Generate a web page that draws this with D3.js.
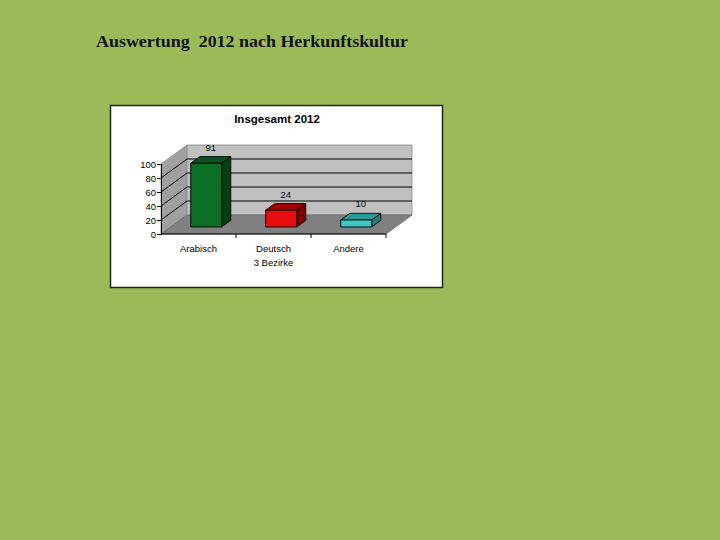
<!DOCTYPE html>
<html><head><meta charset="utf-8">
<script src="https://cdn.jsdelivr.net/npm/d3@7"></script>
<style>html,body{margin:0;padding:0;background:#9bbb59;}svg{display:block;}</style>
</head><body>
<script>
const pageTitle = "Auswertung  2012 nach Herkunftskultur";
const chartTitle = "Insgesamt 2012";
const categories = ["Arabisch", "Deutsch", "Andere"];
const categoryLines = [["Arabisch"], ["Deutsch", "3 Bezirke"], ["Andere"]];
const values = [91, 24, 10];
const yTicks = [0, 20, 40, 60, 80, 100];
const frontColors = ["#0b6e24", "#e80c0c", "#3cc8c8"];
const topColors = ["#0a5220", "#a30000", "#2a9a9a"];
const sideColors = ["#063f16", "#7a0000", "#1f7d7d"];

const W = 720, H = 540;
const svg = d3.select("body").append("svg").attr("width", W).attr("height", H);
svg.append("rect").attr("width", W).attr("height", H).attr("fill", "#9bbb59");

svg.append("text").attr("x", 96).attr("y", 47)
  .attr("font-family", "Liberation Serif, Times New Roman, serif")
  .attr("font-weight", "bold").attr("font-size", 17).attr("fill", "#111")
  .style("white-space", "pre")
  .attr("textLength", 312).attr("lengthAdjust", "spacingAndGlyphs")
  .text(pageTitle);

// chart frame
svg.append("rect").attr("x", 110.5).attr("y", 105.5).attr("width", 332).attr("height", 182)
  .attr("fill", "#fff").attr("stroke", "#1c2a12").attr("stroke-width", 1.5);

svg.append("text").attr("x", 277).attr("y", 123).attr("text-anchor", "middle")
  .attr("font-family", "Liberation Sans, Arial, sans-serif").attr("font-weight", "bold")
  .attr("font-size", 11.5).attr("fill", "#000").text(chartTitle);

const x0 = 161, x1 = 386;
const dX = 26, dY = -19;
const x = d3.scaleBand().domain(categories).range([x0, x1]);
const y = d3.scaleLinear().domain([0, 100]).range([234, 164]);
const bw = x.bandwidth();

const g = svg.append("g");
const pts = a => a.map(p => p.join(",")).join(" ");

// side wall
g.append("polygon").attr("points", pts([[x0, y(0)], [x0, y(100)], [x0 + dX, y(100) + dY], [x0 + dX, y(0) + dY]]))
  .attr("fill", "#a0a0a0").attr("stroke", "#8a8a8a").attr("stroke-width", 0.8);
// back wall
g.append("rect").attr("x", x0 + dX).attr("y", y(100) + dY).attr("width", x1 - x0).attr("height", y(0) - y(100))
  .attr("fill", "#c0c0c0").attr("stroke", "#8a8a8a").attr("stroke-width", 0.8);
// floor
g.append("polygon").attr("points", pts([[x0, y(0)], [x1, y(0)], [x1 + dX, y(0) + dY], [x0 + dX, y(0) + dY]]))
  .attr("fill", "#808080").attr("stroke", "#6a6a6a").attr("stroke-width", 0.8);

// grid lines
yTicks.filter(v => v > 0 && v < 100).forEach(v => {
  g.append("line").attr("x1", x0).attr("y1", y(v)).attr("x2", x0 + dX).attr("y2", y(v) + dY)
    .attr("stroke", "#000").attr("stroke-width", 1);
  g.append("line").attr("x1", x0 + dX).attr("y1", y(v) + dY).attr("x2", x1 + dX).attr("y2", y(v) + dY)
    .attr("stroke", "#000").attr("stroke-width", 1);
});

// axes
const yAxis = d3.axisLeft(y).tickValues(yTicks).tickSize(4).tickPadding(1);
const ya = svg.append("g").attr("transform", `translate(${x0},0)`).call(yAxis);
ya.selectAll("text").attr("font-family", "Liberation Sans, Arial, sans-serif").attr("font-size", 9.5).attr("fill", "#000");
ya.selectAll("line,path").attr("stroke", "#000");

const xa = svg.append("g");
xa.append("line").attr("x1", x0).attr("x2", x1).attr("y1", y(0)).attr("y2", y(0)).attr("stroke", "#000");
categories.forEach(c => {
  xa.append("line").attr("x1", x(c) + bw).attr("x2", x(c) + bw).attr("y1", y(0)).attr("y2", y(0) + 4).attr("stroke", "#000");
});
categories.forEach((c, i) => {
  categoryLines[i].forEach((t, j) => {
    xa.append("text").attr("x", x(c) + bw / 2).attr("y", 252 + j * 13.5).attr("text-anchor", "middle")
      .attr("font-family", "Liberation Sans, Arial, sans-serif").attr("font-size", 9.5).attr("fill", "#000").text(t);
  });
});

// bars
const z0 = 0.37, z1 = 0.72;
const bars = svg.append("g");
categories.forEach((c, i) => {
  const v = values[i];
  const fl = x(c) + bw * 0.396, fr = fl + bw * 0.413;
  const fb = y(0) + z0 * dY, ft = y(v) + z0 * dY;
  const ox = (z1 - z0) * dX, oy = (z1 - z0) * dY;
  const st = { stroke: "#000", "stroke-width": 0.9, "stroke-linejoin": "round" };
  const side = bars.append("polygon").attr("points", pts([[fr, fb], [fr, ft], [fr + ox, ft + oy], [fr + ox, fb + oy]])).attr("fill", sideColors[i]);
  const top = bars.append("polygon").attr("points", pts([[fl, ft], [fr, ft], [fr + ox, ft + oy], [fl + ox, ft + oy]])).attr("fill", topColors[i]);
  const front = bars.append("rect").attr("x", fl).attr("y", ft).attr("width", fr - fl).attr("height", fb - ft).attr("fill", frontColors[i]);
  [side, top, front].forEach(s => Object.entries(st).forEach(([k, val]) => s.attr(k, val)));
  bars.append("text").attr("x", (fl + fr) / 2 + ox / 2).attr("y", ft + oy - 6).attr("text-anchor", "middle")
    .attr("font-family", "Liberation Sans, Arial, sans-serif").attr("font-size", 9.5).attr("fill", "#000").text(v);
});
</script>
</body></html>
